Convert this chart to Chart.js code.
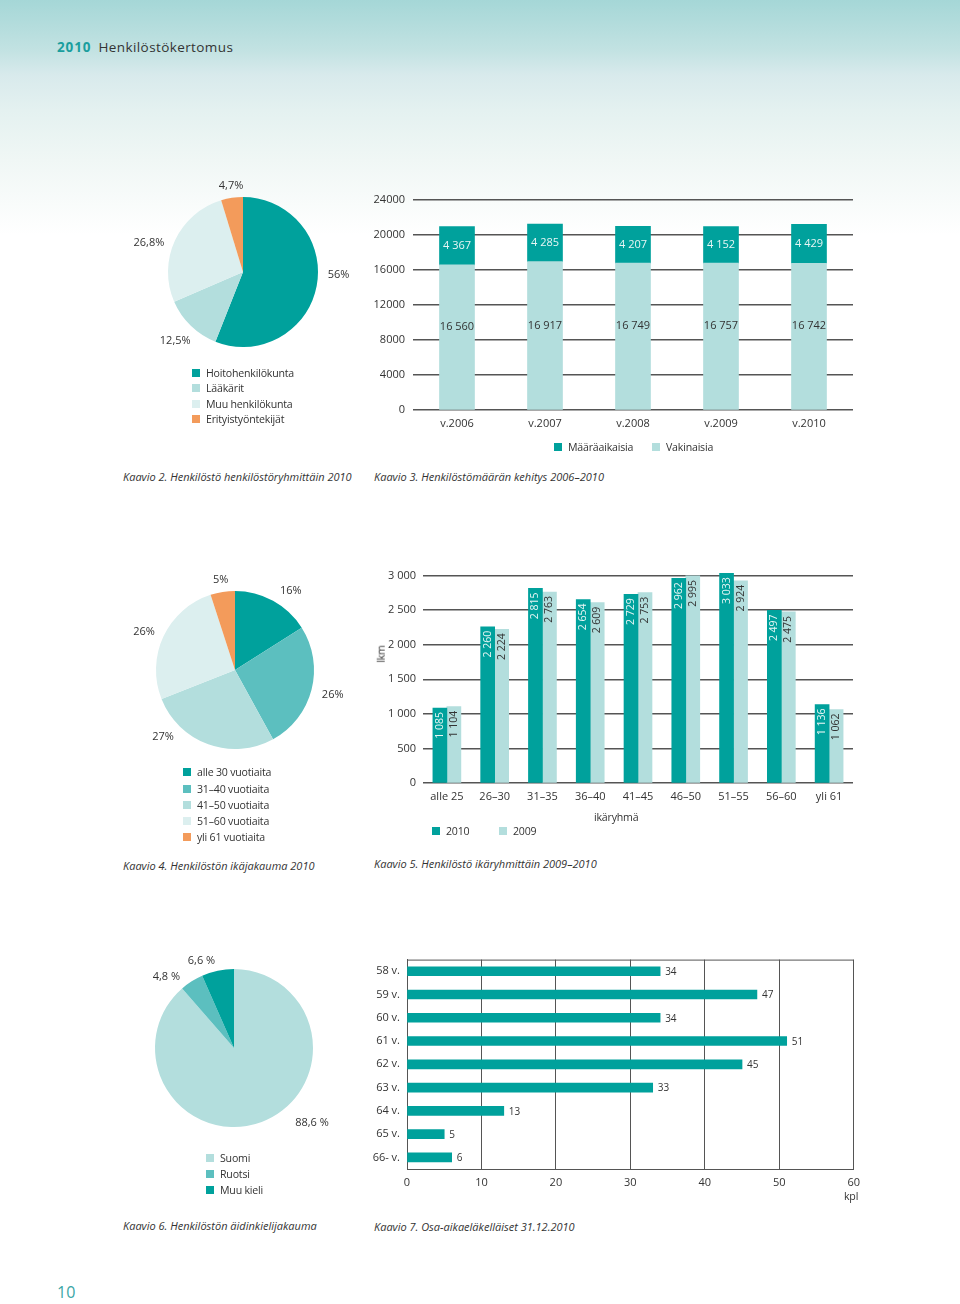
<!DOCTYPE html>
<html lang="fi">
<head>
<meta charset="utf-8">
<title>2010 Henkilöstökertomus</title>
<script src="https://cdn.jsdelivr.net/npm/chart.js@4.4.1/dist/chart.umd.min.js"></script>
<style>
  html, body { margin: 0; padding: 0; background: #fff; }
  body { width: 960px; height: 1304px; position: relative; overflow: hidden;
         font-family: "Open Sans", "Noto Sans", sans-serif; color: #333; }
  .bg { position: absolute; left: 0; top: 0; width: 960px; height: 240px;
        background: linear-gradient(to bottom, #a5d7d7 0px, #c2e2e2 50px, #d8eaec 75px,
                    #e4f1f0 110px, #f0f7f5 160px, #ffffff 235px); }
  .box { position: absolute; }
  .t { position: absolute; font-size: 11px; line-height: 14px; white-space: nowrap;
       transform: translateY(-50%); display: flex; align-items: center; }
  .lg { font-size: 10.6px; letter-spacing: -0.2px; }
  .cap { font-style: italic; }
  .sq { display: inline-block; width: 8px; height: 8px; margin-right: 6px; }
  .head { font-size: 13.5px; letter-spacing: 0.4px; }
  .head b { color: #1a9e9e; margin-right: 7px; letter-spacing: 0.9px; }
  .pageno { font-size: 16px; color: #3aa5a5; }
</style>
</head>
<body>
<div class="bg"></div>

<div class="t head" style="left:57px; top:47px;"><b>2010</b>Henkilöstökertomus</div>

<div class="box" style="left:118px; top:147px; width:250px; height:250px;"><canvas id="groupPie"></canvas></div>
<div class="box" style="left:353px; top:185px; width:500px; height:249px;"><canvas id="staffBars"></canvas></div>
<div class="t cap" style="left:123px; top:477px;">Kaavio 2. Henkilöstö henkilöstöryhmittäin 2010</div>
<div class="t cap" style="left:374px; top:477px;">Kaavio 3. Henkilöstömäärän kehitys 2006–2010</div>

<div class="box" style="left:106px; top:541px; width:258px; height:258px;"><canvas id="agePie"></canvas></div>
<div class="box" style="left:363px; top:562px; width:490px; height:245px;"><canvas id="ageBars"></canvas></div>
<div class="t lg" style="left:372px; top:654px; transform: translateY(-50%) rotate(-90deg);">lkm</div>
<div class="t lg" style="left:594px; top:817px;">ikäryhmä</div>
<div class="t cap" style="left:123px; top:866px;">Kaavio 4. Henkilöstön ikäjakauma 2010</div>
<div class="t cap" style="left:374px; top:864px;">Kaavio 5. Henkilöstö ikäryhmittäin 2009–2010</div>

<div class="box" style="left:105px; top:919px; width:258px; height:258px;"><canvas id="langPie"></canvas></div>
<div class="box" style="left:347px; top:946px; width:520px; height:247px;"><canvas id="retireBars"></canvas></div>
<div class="t lg" style="left:844px; top:1196px;">kpl</div>
<div class="t cap" style="left:123px; top:1226px;">Kaavio 6. Henkilöstön äidinkielijakauma</div>
<div class="t cap" style="left:374px; top:1227px;">Kaavio 7. Osa-aikaeläkelläiset 31.12.2010</div>

<div class="t pageno" style="left:57px; top:1292px;">10</div>

<script>
// Kaavio 2: staff by group 2010 (%)
const groupLabels = ["Hoitohenkilökunta", "Lääkärit", "Muu henkilökunta", "Erityistyöntekijät"];
const groupShare = [56, 12.5, 26.8, 4.7];

// Kaavio 3: staff 2006-2010
const years = ["v.2006", "v.2007", "v.2008", "v.2009", "v.2010"];
const permanent = [16560, 16917, 16749, 16757, 16742];  // Vakinaisia
const fixedTerm = [4367, 4285, 4207, 4152, 4429];       // Määräaikaisia

// Kaavio 4: age distribution 2010 (%)
const ageLabels = ["alle 30 vuotiaita", "31–40 vuotiaita", "41–50 vuotiaita", "51–60 vuotiaita", "yli 61 vuotiaita"];
const ageShare = [16, 26, 27, 26, 5];

// Kaavio 5: staff by age group 2009-2010
const ageGroups = ["alle 25", "26–30", "31–35", "36–40", "41–45", "46–50", "51–55", "56–60", "yli 61"];
const staff2010 = [1085, 2260, 2815, 2654, 2729, 2962, 3033, 2497, 1136];
const staff2009 = [1104, 2224, 2763, 2609, 2753, 2995, 2924, 2475, 1062];

// Kaavio 6: mother tongue (%)
const langLabels = ["Suomi", "Ruotsi", "Muu kieli"];
const langShare = [88.6, 4.8, 6.6];

// Kaavio 7: part-time pensioners 31.12.2010
const retireAges = ["58 v.", "59 v.", "60 v.", "61 v.", "62 v.", "63 v.", "64 v.", "65 v.", "66- v."];
const retireCount = [34, 47, 34, 51, 45, 33, 13, 5, 6];

// colours
const TEAL = "#00a19c", MID = "#5cbfbf", LIGHT = "#b3dedd", PALE = "#dcefef", ORANGE = "#f39b5b";
const GRID = "#555";

Chart.defaults.font.family = "'Open Sans', 'Noto Sans', sans-serif";
Chart.defaults.font.size = 11;
Chart.defaults.color = "#333";
Chart.defaults.animation = false;
Chart.defaults.maintainAspectRatio = false;
Chart.defaults.plugins.legend.display = false;
Chart.defaults.plugins.tooltip.enabled = false;

// 16560 -> "16 560"
const spaced = v => String(v).replace(/\B(?=(\d{3})+(?!\d))/g, " ");

// html legends (square + text)
function legendItem(lab, color, x, y) {
    const d = document.createElement("div");
    d.className = "t lg";
    d.style.left = x + "px";
    d.style.top = y + "px";
    d.innerHTML = `<span class="sq" style="background:${color}"></span>${lab}`;
    document.body.appendChild(d);
}
function legendCol(items, colors, x, y, gap) {
    items.forEach((lab, i) => legendItem(lab, colors[i], x, y + i * gap));
}
function legendRow(items, colors, xs, y) {
    items.forEach((lab, i) => legendItem(lab, colors[i], xs[i], y));
}

// percent labels round a pie, placed at [angle from top (deg), distance]
function pieLabels(at, suffix) {
    return {
        id: "pieLabels",
        afterDatasetsDraw(chart) {
            const ctx = chart.ctx;
            const vals = chart.data.datasets[0].data;
            ctx.save();
            ctx.font = "11px 'Open Sans'";
            ctx.fillStyle = "#333";
            ctx.textAlign = "center";
            ctx.textBaseline = "middle";
            chart.getDatasetMeta(0).data.forEach((arc, i) => {
                const a = (at[i][0] - 90) * Math.PI / 180;
                const txt = String(vals[i]).replace(".", ",") + suffix;
                ctx.fillText(txt, arc.x + Math.cos(a) * at[i][1], arc.y + Math.sin(a) * at[i][1]);
            });
            ctx.restore();
        }
    };
}

function pie(id, labels, data, colors, at, suffix) {
    return new Chart(document.getElementById(id), {
        type: "pie",
        data: { labels: labels, datasets: [{ data: data, backgroundColor: colors, borderWidth: 0, hoverOffset: 0 }] },
        options: { layout: { padding: 50 } },
        plugins: [pieLabels(at, suffix)]
    });
}

// ---- Kaavio 2 ----
const groupColors = [TEAL, LIGHT, PALE, ORANGE];
pie("groupPie", groupLabels, groupShare, groupColors,
    [[91.6, 95.5], [224.5, 96.7], [287.1, 98.4], [352.1, 86.8]], "%");
legendCol(groupLabels, groupColors, 192, 373, 15.4);

// ---- Kaavio 3 ----
const stackLabels = {
    id: "stackLabels",
    afterDatasetsDraw(chart) {
        const ctx = chart.ctx;
        ctx.save();
        ctx.font = "11px 'Open Sans'";
        ctx.textAlign = "center";
        ctx.textBaseline = "middle";
        chart.data.datasets.forEach((ds, di) => {
            chart.getDatasetMeta(di).data.forEach((bar, i) => {
                const mid = (bar.y + bar.base) / 2;
                ctx.fillStyle = di === 0 ? "#333" : "#e8f6f5";
                ctx.fillText(spaced(ds.data[i]), bar.x, di === 0 ? mid - 10 : mid);
            });
        });
        ctx.restore();
    }
};

new Chart(document.getElementById("staffBars"), {
    type: "bar",
    data: {
        labels: years,
        datasets: [
            { label: "Vakinaisia", data: permanent, backgroundColor: LIGHT, barThickness: 35 },
            { label: "Määräaikaisia", data: fixedTerm, backgroundColor: TEAL, barThickness: 35 }
        ]
    },
    options: {
        layout: { padding: 0 },
        scales: {
            x: {
                stacked: true,
                grid: { display: false, drawTicks: false },
                border: { display: false },
                ticks: { padding: 7 },
                afterFit: s => { s.height = 24; }
            },
            y: {
                stacked: true, min: 0, max: 24000,
                ticks: { stepSize: 4000, padding: 8, callback: v => String(v) },
                grid: { color: GRID, lineWidth: 1.4, drawTicks: false },
                border: { display: false },
                afterFit: s => { s.width = 60; }
            }
        }
    },
    plugins: [stackLabels]
});
legendRow(["Määräaikaisia", "Vakinaisia"], [TEAL, LIGHT], [554, 652], 447);

// ---- Kaavio 4 ----
const ageColors = [TEAL, MID, LIGHT, PALE, ORANGE];
pie("agePie", ageLabels, ageShare, ageColors,
    [[35.1, 96.9], [104, 100.7], [227.2, 98.1], [292.8, 98.7], [351, 91.1]], "%");
legendCol(ageLabels, ageColors, 183, 772.3, 16.25);

// ---- Kaavio 5 ----
const upLabels = {
    id: "upLabels",
    afterDatasetsDraw(chart) {
        const ctx = chart.ctx;
        ctx.save();
        ctx.font = "10.5px 'Open Sans'";
        ctx.textAlign = "right";
        ctx.textBaseline = "middle";
        chart.data.datasets.forEach((ds, di) => {
            ctx.fillStyle = di === 0 ? "#e8f6f5" : "#333";
            chart.getDatasetMeta(di).data.forEach((bar, i) => {
                ctx.save();
                ctx.translate(bar.x, bar.y + 4);
                ctx.rotate(-Math.PI / 2);
                ctx.fillText(spaced(ds.data[i]), 0, 0);
                ctx.restore();
            });
        });
        ctx.restore();
    }
};

new Chart(document.getElementById("ageBars"), {
    type: "bar",
    data: {
        labels: ageGroups,
        datasets: [
            { label: "2010", data: staff2010, backgroundColor: TEAL, barThickness: 14, clip: false },
            { label: "2009", data: staff2009, backgroundColor: LIGHT, barThickness: 14, clip: false }
        ]
    },
    options: {
        layout: { padding: 0 },
        scales: {
            x: {
                grid: { display: false, drawTicks: false },
                border: { display: false },
                ticks: { padding: 7 },
                afterFit: s => { s.height = 24; }
            },
            y: {
                min: 0, max: 3000,
                ticks: { stepSize: 500, padding: 7, callback: v => spaced(v) },
                grid: { color: GRID, lineWidth: 1.4, drawTicks: false },
                border: { display: false },
                afterFit: s => { s.width = 60; }
            }
        }
    },
    plugins: [upLabels]
});
legendRow(["2010", "2009"], [TEAL, LIGHT], [432, 499], 830.7);

// ---- Kaavio 6 ----
const langColors = [LIGHT, MID, TEAL];
pie("langPie", langLabels, langShare, langColors,
    [[133.7, 107.9], [316.4, 98], [339.5, 92.9]], " %");
legendCol(langLabels, langColors, 206, 1158.3, 15.6);

// ---- Kaavio 7 ----
const endLabels = {
    id: "endLabels",
    afterDatasetsDraw(chart) {
        const ctx = chart.ctx;
        const a = chart.chartArea;
        ctx.save();
        // top frame line
        ctx.strokeStyle = GRID;
        ctx.lineWidth = 1;
        ctx.beginPath();
        ctx.moveTo(a.left, a.top + 0.5);
        ctx.lineTo(a.right, a.top + 0.5);
        ctx.stroke();
        ctx.font = "10px 'Open Sans'";
        ctx.fillStyle = "#333";
        ctx.textBaseline = "middle";
        const vals = chart.data.datasets[0].data;
        chart.getDatasetMeta(0).data.forEach((bar, i) => {
            ctx.fillText(vals[i], bar.x + 5, bar.y + 1);
        });
        ctx.restore();
    }
};

new Chart(document.getElementById("retireBars"), {
    type: "bar",
    data: {
        labels: retireAges,
        datasets: [{ data: retireCount, backgroundColor: TEAL, barThickness: 9 }]
    },
    options: {
        indexAxis: "y",
        layout: { padding: 0 },
        scales: {
            x: {
                min: 0, max: 60,
                ticks: { stepSize: 10, padding: 7 },
                grid: { color: GRID, lineWidth: 1, drawTicks: false },
                border: { display: true, color: GRID, width: 1 },
                afterFit: s => { s.height = 24; }
            },
            y: {
                ticks: { padding: 7 },
                grid: { display: false, drawTicks: false },
                border: { display: true, color: GRID, width: 1 },
                afterFit: s => { s.width = 60; }
            }
        }
    },
    plugins: [endLabels]
});
</script>
</body>
</html>
